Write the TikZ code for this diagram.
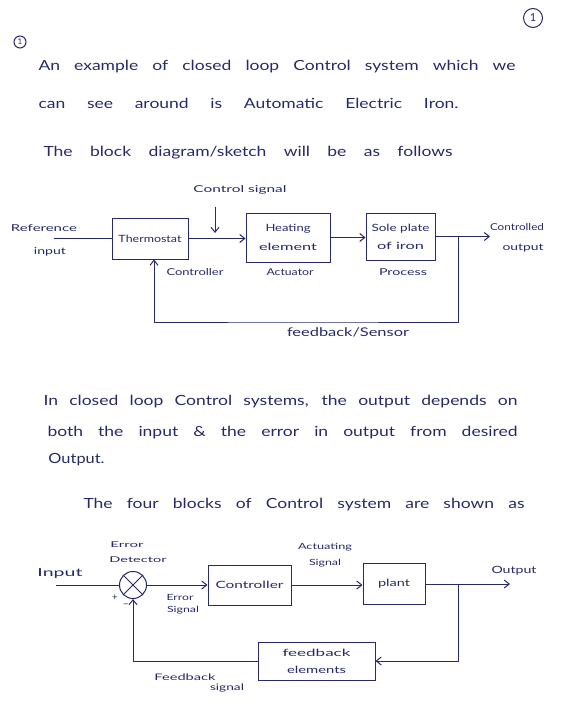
\documentclass[tikz,border=0pt]{standalone}
\usepackage{fontspec}
\setmainfont{Lato}
\usetikzlibrary{arrows.meta}
\definecolor{ink}{RGB}{38,42,105}
\newcommand{\fitw}[2]{\resizebox{#1}{\height}{#2}}
\newcommand{\bodyline}[2]{\scalebox{1.25}[1]{\makebox[\dimexpr #1*4/5\relax][s]{#2}}}
\begin{document}
\begin{tikzpicture}[x=1pt,y=-1pt,line width=1pt,
  every node/.style={text=ink},
  box/.style={draw=ink,line width=1pt,inner sep=0pt,align=center,font=\fontsize{10}{12}\selectfont},
  arr/.style={draw=ink,-{Straight Barb[length=5pt,width=8pt]}},
  wire/.style={draw=ink},
  body/.style={font=\fontsize{14}{16}\selectfont,inner sep=0pt,anchor=west},
  lab/.style={font=\fontsize{9.5}{11}\selectfont,inner sep=0pt},
  num/.style={draw=ink,circle,inner sep=0pt,font=\fontsize{11}{12}\selectfont}]
\fill[white] (0,0) rectangle (560,717);
\useasboundingbox (0,0) rectangle (560,717);

% page numbers
\node[num,minimum size=19pt] (pgnum) at (533,18) {1};
\node[num,minimum size=12pt,font=\fontsize{8}{9}\selectfont] (qnum) at (20,42) {1};

% first paragraph
\node[body] (l1) at (38,67) {\bodyline{477pt}{An example of closed loop Control system which we}};
\node[body] (l2) at (38,103) {\bodyline{420pt}{can see around is Automatic Electric Iron.}};
\node[body] (l3) at (43,153) {\bodyline{409pt}{The block diagram/sketch will be as follows}};

% diagram 1
\node[box,minimum width=76pt,minimum height=41pt] (thermo) at (150,238.5) {\fitw{63pt}{Thermostat}};
\node[box,minimum width=84pt,minimum height=49pt] (heat) at (288,237.5) {\fitw{45pt}{Heating}\\[7pt]\fitw{58pt}{element}};
\node[box,minimum width=69pt,minimum height=47pt] (sole) at (400.5,236.5) {\fitw{58pt}{Sole plate}\\[6pt]\fitw{47pt}{of iron}};

\node[lab] (ctrlsig) at (240,190) {\fitw{93pt}{Control signal}};
\node[lab] (refL) at (44,228) {\fitw{66pt}{Reference}};
\node[lab] (inL) at (50,252) {\fitw{32pt}{input}};
\node[lab] (contL) at (195,272) {\fitw{57pt}{Controller}};
\node[lab] (actL) at (290,272) {\fitw{47pt}{Actuator}};
\node[lab] (procL) at (403,272) {\fitw{48pt}{Process}};
\node[lab] (coutL) at (517,227) {\fitw{54pt}{Controlled}};
\node[lab] (outL) at (523,248) {\fitw{41pt}{output}};
\node[lab,font=\fontsize{12}{14}\selectfont] (fbsL) at (348,332) {\fitw{122pt}{feedback/Sensor}};

\coordinate (refin) at (54,238.5);
\coordinate (out1) at (490,236.5);
\coordinate (fb1) at (458,236.5);
\coordinate (fbc1) at (300,322);
\coordinate (cstop) at (215,207);
\coordinate (csbot) at (215,233);

\draw[wire] (refin) -- (thermo.west);
\draw[arr] (thermo.east) -- (thermo.east -| heat.west);
\draw[arr] (heat.east) -- (heat.east -| sole.west);
\draw[arr] (sole.east) -- (out1);
\draw[arr] (fb1) |- (fbc1) -| ([xshift=4pt]thermo.south);
\draw[arr] (cstop) -- (csbot);

% second paragraph
\node[body] (l4) at (43,402) {\bodyline{474pt}{In closed loop Control systems, the output depends on}};
\node[body] (l5) at (47,433) {\bodyline{470pt}{both the input \& the error in output from desired}};
\node[body] (l6) at (48,460) {\fitw{56pt}{Output.}};
\node[body] (l7) at (83,505) {\bodyline{441pt}{The four blocks of Control system are shown as}};

% diagram 2
\node[draw=ink,circle,minimum size=27pt,inner sep=0pt] (sum) at (133,585) {};
\draw[wire] (sum.north west) -- (sum.south east);
\draw[wire] (sum.north east) -- (sum.south west);
\node[box,minimum width=83pt,minimum height=40pt] (ctrl) at (249.5,585) {\fitw{68pt}{Controller}};
\node[box,minimum width=62pt,minimum height=41pt] (plant) at (394,584) {\fitw{32pt}{plant}};
\node[box,minimum width=117pt,minimum height=38pt] (fbel) at (316.5,661) {\fitw{68pt}{feedback}\\[5pt]\fitw{59pt}{elements}};

\node[lab,font=\fontsize{8}{9}\selectfont] (errL) at (127,545) {\fitw{33pt}{Error}};
\node[lab,font=\fontsize{8}{9}\selectfont] (detL) at (138,560) {\fitw{57pt}{Detector}};
\node[lab,font=\fontsize{11}{12}\selectfont] (inpL) at (60,573) {\fitw{45pt}{Input}};
\node[lab] (plusL) at (115,598) {+};
\node[lab] (minusL) at (126,606) {−};
\node[lab,font=\fontsize{8.5}{10}\selectfont] (esL1) at (180,597) {\fitw{27pt}{Error}};
\node[lab,font=\fontsize{8.5}{10}\selectfont] (esL2) at (183,610) {\fitw{32pt}{Signal}};
\node[lab,font=\fontsize{8.5}{10}\selectfont] (asL1) at (325,547) {\fitw{54pt}{Actuating}};
\node[lab,font=\fontsize{8.5}{10}\selectfont] (asL2) at (325,563) {\fitw{32pt}{Signal}};
\node[lab,font=\fontsize{10}{12}\selectfont] (outpL) at (514,571) {\fitw{45pt}{Output}};
\node[lab,font=\fontsize{9}{10}\selectfont] (fsL1) at (185,677) {\fitw{61pt}{Feedback}};
\node[lab,font=\fontsize{9}{10}\selectfont] (fsL2) at (227,688) {\fitw{34pt}{signal}};

\coordinate (in2) at (56,585);
\coordinate (out2) at (510,584);
\coordinate (fb2) at (458,584);

\draw[wire] (in2) -- (sum.west);
\draw[arr] (sum.east) -- (ctrl.west);
\draw[arr] (ctrl.east) -- (ctrl.east -| plant.west);
\draw[arr] (plant.east) -- (out2);
\draw[arr] (fb2) |- (fbel.east);
\draw[arr] (fbel.west) -| (sum.south);
\end{tikzpicture}
\end{document}
